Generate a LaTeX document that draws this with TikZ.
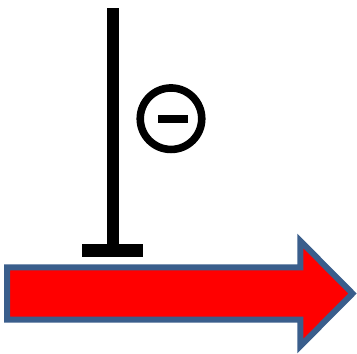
\documentclass[tikz,border=0pt]{standalone}
\definecolor{arrowred}{HTML}{FF0000}
\definecolor{outlineblue}{HTML}{3A5E8C}
\tikzset{
  inhibline/.style={line width=12pt, black, line cap=butt},
  bigarrow/.style={fill=arrowred, draw=outlineblue, line width=6pt, line join=miter, miter limit=10},
}
\begin{document}
\begin{tikzpicture}[x=1pt,y=-1pt]
\useasboundingbox (0,0) rectangle (357,354);
\coordinate (top) at (113,8);
\coordinate (foot) at (113,250.5);
\coordinate (barL) at (82.3,250.5);
\coordinate (barR) at (143,250.5);
\draw[inhibline] (top) -- (foot);
\draw[line width=12.4pt, black] (barL) -- (barR);
\node[circle, draw=black, line width=7.6pt, minimum size=61.5pt, inner sep=0pt] (minus) at (171,118.7) {};
\fill[black] (157.7,115) rectangle (187.7,123.3);
\draw[bigarrow] (7,267.3) -- (300.4,267.3) -- (300.4,241) -- (352.5,293.5) -- (300.4,346) -- (300.4,319.7) -- (7,319.7) -- cycle;
\end{tikzpicture}
\end{document}
